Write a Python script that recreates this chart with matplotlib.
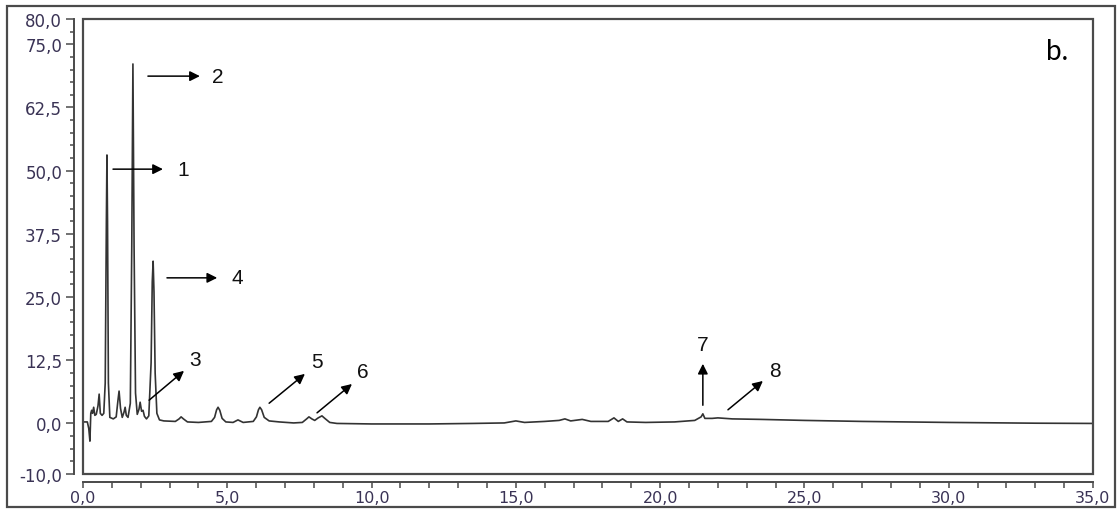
import numpy as np
import matplotlib
matplotlib.use("Agg")
import matplotlib.pyplot as plt
from matplotlib.patches import Rectangle

# retention time (min) and detector signal
rt = [0.00, 0.15, 0.20, 0.24, 0.27, 0.30, 0.33, 0.37, 0.41, 0.46, 0.52, 0.56,
      0.60, 0.66, 0.72, 0.77, 0.81, 0.83, 0.85, 0.88, 0.93, 1.05, 1.15, 1.21,
      1.25, 1.30, 1.36, 1.42, 1.46, 1.50, 1.56, 1.64, 1.69, 1.73, 1.77, 1.82,
      1.88, 1.94, 1.98, 2.03, 2.08, 2.13, 2.20, 2.28, 2.36, 2.40, 2.43, 2.46,
      2.50, 2.56, 2.65, 2.80, 3.20, 3.33, 3.40, 3.48, 3.62, 4.00, 4.45, 4.56,
      4.63, 4.68, 4.74, 4.82, 4.95, 5.20, 5.37, 5.55, 5.90, 6.01, 6.08, 6.13,
      6.19, 6.28, 6.45, 6.80, 7.30, 7.60, 7.75, 7.83, 7.93, 8.03, 8.15, 8.28,
      8.38, 8.55, 8.80, 10.0, 12.0, 13.5, 14.6, 15.0, 15.3, 16.0, 16.5, 16.7,
      16.9, 17.3, 17.6, 18.2, 18.4, 18.55, 18.7, 18.85, 19.5, 20.5, 21.2, 21.42,
      21.48, 21.55, 21.8, 22.0, 22.5, 23.5, 25.0, 27.0, 30.0, 33.0, 35.0]
signal = [0.3, 0.3, -1.0, -3.5, 2.0, 2.6, 2.0, 3.2, 1.6, 1.8, 3.5, 5.8,
          2.0, 1.6, 2.0, 8.0, 40.0, 53.1, 40.0, 8.0, 1.2, 0.9, 1.3, 4.5,
          6.4, 3.0, 1.2, 2.2, 3.2, 1.6, 1.2, 4.0, 35.0, 71.1, 35.0, 6.0,
          1.8, 2.8, 4.2, 2.4, 2.6, 1.4, 0.9, 1.5, 12.0, 28.0, 32.1, 26.0,
          10.0, 2.0, 0.7, 0.5, 0.4, 0.9, 1.3, 0.9, 0.3, 0.2, 0.4, 1.2,
          2.7, 3.2, 2.6, 1.0, 0.3, 0.2, 0.7, 0.2, 0.4, 1.3, 2.7, 3.2,
          2.7, 1.2, 0.5, 0.3, 0.1, 0.2, 0.9, 1.3, 0.9, 0.6, 1.1, 1.5,
          1.0, 0.2, 0.0, -0.1, -0.1, 0.0, 0.1, 0.5, 0.2, 0.4, 0.6, 0.9,
          0.5, 0.8, 0.4, 0.4, 1.1, 0.4, 0.9, 0.3, 0.2, 0.3, 0.6, 1.3,
          1.9, 1.0, 1.0, 1.1, 0.9, 0.8, 0.6, 0.4, 0.2, 0.05, 0.0]

# peak labels: (text, arrow tail, arrow head, text position)
peak_labels = ["1", "2", "3", "4", "5", "6", "7", "8"]
arrow_tail = [(1.04, 50.3), (2.25, 68.7), (2.29, 4.6), (2.91, 28.8),
              (6.45, 4.0), (8.11, 2.1), (21.48, 3.6), (22.35, 2.7)]
arrow_head = [(2.77, 50.3), (4.05, 68.7), (3.50, 10.4), (4.65, 28.8),
              (7.69, 9.8), (9.32, 7.8), (21.48, 11.8), (23.56, 8.4)]
label_pos = [(3.47, 50.3), (4.68, 68.6), (3.88, 12.6), (5.35, 28.8),
             (8.11, 12.2), (9.70, 10.2), (21.48, 15.7), (23.98, 10.4)]

y_major = [-10.0, 0.0, 12.5, 25.0, 37.5, 50.0, 62.5, 75.0, 80.0]
x_major = [0.0, 5.0, 10.0, 15.0, 20.0, 25.0, 30.0, 35.0]

def comma(v):
    return f"{v:.1f}".replace(".", ",")

fig = plt.figure(figsize=(11.19, 5.10), dpi=100)
ax = fig.add_axes([83 / 1119, 35 / 510, 1010 / 1119, 455 / 510])

ax.plot(rt, signal, color="#333333", lw=1.2, solid_joinstyle="round")

ax.set_xlim(0, 35)
ax.set_ylim(-10, 80)

frame_col = "#4a4a4a"
# inner plotting box
ax.add_patch(Rectangle((0, 0), 1, 1, transform=ax.transAxes, fill=False,
                       edgecolor=frame_col, lw=1.6, clip_on=False, zorder=5))
for s in ["top", "right"]:
    ax.spines[s].set_visible(False)
ax.spines["left"].set_position(("outward", 6.5))
ax.spines["bottom"].set_position(("outward", 5.8))
for s in ["left", "bottom"]:
    ax.spines[s].set_color(frame_col)
    ax.spines[s].set_linewidth(1.4)

lab_col = "#3a3355"
ax.set_yticks(y_major)
ax.set_yticklabels([comma(v) for v in y_major])
ax.set_yticks(np.arange(-10, 80.1, 2.5), minor=True)
ax.set_xticks(x_major)
ax.set_xticklabels([comma(v) for v in x_major])
ax.set_xticks(np.arange(0, 35.1, 1.0), minor=True)

ax.tick_params(axis="y", which="major", length=5.5, width=1.1, color=frame_col,
               pad=3, labelsize=12, labelcolor=lab_col)
ax.tick_params(axis="y", which="minor", length=3.2, width=1.1, color=frame_col)
ax.tick_params(axis="x", which="both", length=4, width=1.1, color=frame_col,
               pad=1.5, labelsize=11.5, labelcolor=lab_col)
for t in ax.get_xticklabels() + ax.get_yticklabels():
    t.set_fontfamily("DejaVu Sans")

for lab, tail, head, pos in zip(peak_labels, arrow_tail, arrow_head, label_pos):
    ax.annotate("", xy=head, xytext=tail,
                arrowprops=dict(arrowstyle="-|>", color="black", lw=1.1,
                                mutation_scale=15, shrinkA=0, shrinkB=0))
    ax.text(pos[0], pos[1], lab, fontsize=15, family="Liberation Sans",
            ha="center", va="center", color="#111111")

ax.text(33.75, 73.6, "b.", fontsize=20, family="Lato", ha="center",
        va="center", color="black")

# outer border around the whole figure
fig.add_artist(Rectangle((7 / 1119, 2 / 510), 1108 / 1119, 501 / 510,
                         transform=fig.transFigure, fill=False,
                         edgecolor=frame_col, lw=1.6))

fig.savefig("out.png", dpi=100)
